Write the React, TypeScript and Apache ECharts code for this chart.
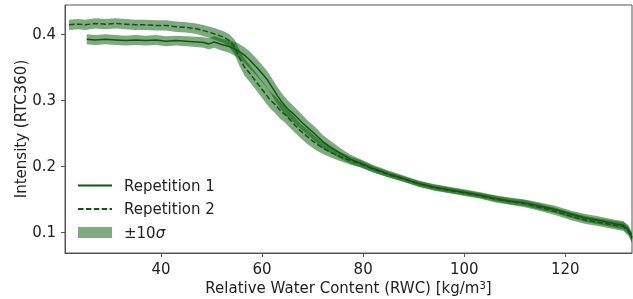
import React, { useEffect, useRef } from "react";
import * as echarts from "echarts";

// Repetition 1 (solid)
const rwc1 = [25.3, 27, 29, 31, 33, 35, 37, 39, 41, 43, 45, 47, 48.5, 49.5, 50.5, 52, 53.5, 55, 56.5, 57.5, 59, 60, 61, 62, 63, 64, 65, 66.2, 67.5, 69, 70.5, 72, 73.5, 75.5, 77.5, 79.5, 82, 85, 88, 91, 94, 97, 100, 103, 106, 109, 112, 115, 118, 121, 124, 127, 130, 131.5, 132.5, 133.2];
const int1 = [0.392, 0.391, 0.392, 0.391, 0.390, 0.391, 0.390, 0.391, 0.389, 0.390, 0.389, 0.388, 0.387, 0.385, 0.388, 0.384, 0.381, 0.376, 0.368, 0.361, 0.349, 0.340, 0.331, 0.319, 0.307, 0.296, 0.287, 0.279, 0.269, 0.258, 0.248, 0.237, 0.229, 0.219, 0.210, 0.204, 0.196, 0.188, 0.181, 0.173, 0.168, 0.164, 0.160, 0.156, 0.151, 0.147, 0.144, 0.139, 0.134, 0.127, 0.121, 0.117, 0.112, 0.110, 0.103, 0.092];
const sig1 = [0.0075, 0.0075, 0.0075, 0.0075, 0.0075, 0.0075, 0.0075, 0.0075, 0.0075, 0.0075, 0.0075, 0.0078, 0.008, 0.0085, 0.009, 0.009, 0.0095, 0.011, 0.012, 0.013, 0.013, 0.013, 0.013, 0.013, 0.013, 0.013, 0.013, 0.012, 0.012, 0.011, 0.011, 0.010, 0.009, 0.008, 0.007, 0.006, 0.0055, 0.005, 0.0045, 0.0045, 0.0045, 0.0045, 0.0045, 0.0045, 0.0045, 0.005, 0.005, 0.0055, 0.0055, 0.0055, 0.006, 0.006, 0.006, 0.0065, 0.007, 0.007];

// Repetition 2 (dashed)
const rwc2 = [21.8, 23.5, 25, 27, 29, 31, 33, 35, 37, 39, 41, 43, 45, 47, 49, 51, 52.5, 53.5, 54.5, 55.5, 56.5, 57.6, 58.6, 59.6, 60.6, 61.6, 62.6, 63.6, 64.5, 66, 67.5, 69, 70.5, 72, 73.5, 75.5, 77.5, 79.5, 82, 85, 88, 91, 94, 97, 100, 103, 106, 109, 112, 115, 118, 121, 124, 127, 130, 131.5, 132.5, 133.2];
const int2 = [0.414, 0.415, 0.414, 0.416, 0.415, 0.416, 0.415, 0.414, 0.414, 0.413, 0.413, 0.411, 0.410, 0.408, 0.404, 0.399, 0.395, 0.390, 0.381, 0.364, 0.350, 0.340, 0.330, 0.320, 0.310, 0.300, 0.293, 0.284, 0.278, 0.266, 0.254, 0.244, 0.235, 0.227, 0.221, 0.214, 0.208, 0.203, 0.195, 0.187, 0.180, 0.173, 0.167, 0.163, 0.159, 0.155, 0.150, 0.146, 0.143, 0.137, 0.131, 0.124, 0.118, 0.114, 0.110, 0.108, 0.101, 0.090];
const sig2 = [0.0078, 0.0078, 0.0078, 0.0078, 0.0078, 0.0078, 0.0078, 0.0078, 0.0078, 0.0078, 0.0078, 0.0078, 0.0078, 0.008, 0.0085, 0.009, 0.009, 0.0095, 0.011, 0.012, 0.013, 0.013, 0.013, 0.013, 0.013, 0.013, 0.013, 0.013, 0.012, 0.012, 0.011, 0.011, 0.010, 0.009, 0.008, 0.007, 0.006, 0.0055, 0.005, 0.0045, 0.0045, 0.0045, 0.0045, 0.0045, 0.0045, 0.0045, 0.005, 0.005, 0.0055, 0.0055, 0.0055, 0.006, 0.006, 0.006, 0.0065, 0.0065, 0.007, 0.007];

const xTicks = [40, 60, 80, 100, 120];
const yTicks = [0.1, 0.2, 0.3, 0.4];

const LINE = "#0b5a0b";
const BAND = "rgba(0,85,0,0.5)";
const FONT = "DejaVu Sans";
const TXT = "#222";

export default function App() {
  const ref = useRef<HTMLDivElement>(null);
  useEffect(() => {
    if (!ref.current) return;
    const chart = echarts.init(ref.current, null, { renderer: "svg" });
    const sets = [
      { x: rwc1, y: int1, s: sig1 },
      { x: rwc2, y: int2, s: sig2 },
    ];
    chart.setOption({
      animation: false,
      textStyle: { fontFamily: FONT },
      grid: {
        left: 65,
        right: 1,
        top: 5,
        bottom: 46,
        outerBoundsMode: "none",
        show: true,
        borderColor: "#555",
        borderWidth: 1,
        backgroundColor: "transparent",
      },
      legend: {
        orient: "vertical",
        left: 77,
        top: 178,
        padding: 0,
        itemWidth: 34,
        itemHeight: 11,
        itemGap: 8.5,
        data: [
          { name: "Repetition 1", itemStyle: { opacity: 0 } },
          { name: "Repetition 2", itemStyle: { opacity: 0 } },
          { name: "±10σ", icon: "rect" },
        ],
        formatter: (n: string) => (n === "±10σ" ? "±10{i|σ}" : n),
        textStyle: {
          fontFamily: FONT,
          fontSize: 15,
          color: TXT,
          padding: [0, 0, 0, 7],
          rich: { i: { fontFamily: FONT, fontSize: 15, fontStyle: "italic", color: TXT } },
        },
      },
      xAxis: {
        type: "value",
        min: 21,
        max: 133.2,
        name: "Relative Water Content (RWC) [kg/m{sup|3}]",
        nameLocation: "middle",
        nameGap: 27,
        nameMoveOverlap: false,
        nameTextStyle: {
          fontFamily: FONT,
          fontSize: 15,
          color: TXT,
          rich: { sup: { fontFamily: FONT, fontSize: 10, color: TXT, verticalAlign: "top", padding: [0, 0, 6, 0] } },
        },
        axisLine: { lineStyle: { color: "#555", width: 1 } },
        axisTick: { show: true, length: 4, customValues: xTicks, lineStyle: { color: "#555" } },
        axisLabel: { customValues: xTicks, fontFamily: FONT, fontSize: 15, color: TXT, margin: 8 },
        splitLine: { show: false },
      },
      yAxis: {
        type: "value",
        min: 0.068,
        max: 0.444,
        name: "Intensity (RTC360)",
        nameLocation: "middle",
        nameGap: 37,
        nameMoveOverlap: false,
        nameTextStyle: { fontFamily: FONT, fontSize: 15, color: TXT },
        axisLine: { show: true, lineStyle: { color: "#555", width: 1 } },
        axisTick: { show: true, length: 4, customValues: yTicks, lineStyle: { color: "#555" } },
        axisLabel: {
          customValues: yTicks,
          fontFamily: FONT,
          fontSize: 15,
          color: TXT,
          margin: 9,
          formatter: (v: number) => v.toFixed(1),
        },
        splitLine: { show: false },
      },
      series: [
        {
          type: "custom",
          name: "±10σ",
          itemStyle: { color: BAND },
          data: [[50, 0.3], [50, 0.3]],
          encode: { x: 0, y: 1 },
          renderItem: (params: any, api: any) => {
            const d = sets[params.dataIndex];
            const up = d.x.map((x, i) => api.coord([x, d.y[i] + d.s[i]]));
            const lo = d.x.map((x, i) => api.coord([x, d.y[i] - d.s[i]])).reverse();
            return { type: "polygon", shape: { points: up.concat(lo) }, style: { fill: BAND } };
          },
          z: 1,
        },
        {
          type: "line",
          name: "Repetition 1",
          data: rwc1.map((x, i) => [x, int1[i]]),
          symbol: "none",
          color: LINE,
          lineStyle: { color: LINE, width: 1.5 },
          z: 3,
        },
        {
          type: "line",
          name: "Repetition 2",
          data: rwc2.map((x, i) => [x, int2[i]]),
          symbol: "none",
          color: LINE,
          lineStyle: { color: LINE, width: 1.5, type: [5.5, 2.4] },
          z: 3,
        },
      ],
    });
    return () => chart.dispose();
  }, []);
  return <div ref={ref} style={{ position: "fixed", left: 0, top: 0, width: 633, height: 299 }} />;
}
